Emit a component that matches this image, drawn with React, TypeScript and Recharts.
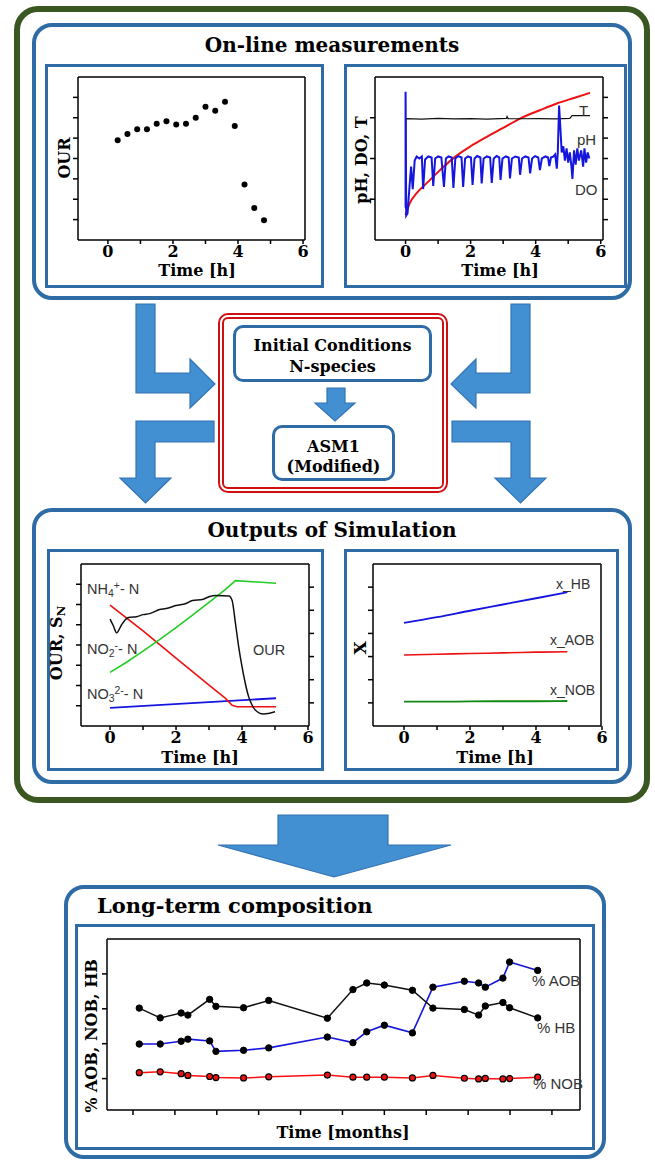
import React from 'react';
import { LineChart, Line, XAxis, YAxis, ScatterChart, Scatter } from 'recharts';

// ---------- On-line measurements: OUR ----------
const ourTime = [0.3, 0.6, 0.9, 1.2, 1.5, 1.8, 2.1, 2.4, 2.7, 3.0, 3.3, 3.6, 3.9, 4.2, 4.5, 4.8];
const ourValue = [4.89, 5.2, 5.43, 5.43, 5.7, 5.83, 5.67, 5.7, 6.0, 6.54, 6.34, 6.78, 5.59, 2.73, 1.57, 0.97];

// ---------- On-line measurements: pH, DO, T ----------
const tempTime = [0, 0.01, 0.5, 1.0, 1.5, 2.0, 2.5, 3.1, 3.12, 3.15, 3.6, 4.1, 4.6, 5.05, 5.12, 5.67];
const tempValue = [1.55, 5.96, 5.93, 5.97, 5.94, 5.96, 5.93, 5.97, 6.06, 5.96, 5.95, 5.96, 5.94, 5.97, 6.1, 6.1];
const phTime = [0, 0.13, 0.34, 0.65, 1.06, 1.52, 2.0, 2.5, 3.0, 3.52, 4.13, 4.65, 5.2, 5.67];
const phValue = [1.23, 1.81, 2.3, 2.79, 3.43, 4.08, 4.6, 5.06, 5.5, 5.96, 6.37, 6.7, 6.98, 7.22];
const doTime = [
  0, 0, 0.02, 0.06, 0.12, 0.17, 0.22, 0.28, 0.34, 0.42, 0.5, 0.54, 0.6, 0.7, 0.8, 0.85, 0.91, 1.0, 1.1,
  1.18, 1.24, 1.32, 1.42, 1.47, 1.53, 1.62, 1.72, 1.77, 1.83, 1.92, 2.01, 2.06, 2.12, 2.2, 2.3, 2.34,
  2.4, 2.5, 2.6, 2.65, 2.71, 2.8, 2.88, 2.92, 2.98, 3.08, 3.17, 3.21, 3.27, 3.37, 3.48, 3.52, 3.58,
  3.68, 3.78, 3.83, 3.89, 3.98, 4.08, 4.13, 4.19, 4.3, 4.38, 4.42, 4.47, 4.55, 4.6, 4.65, 4.68, 4.72,
  4.76, 4.8, 4.85, 4.9, 4.95, 5.0, 5.05, 5.1, 5.13, 5.18, 5.23, 5.28, 5.33, 5.4, 5.46, 5.5, 5.55, 5.6, 5.65,
];
const doValue = [
  1.6, 7.27, 1.2, 1.3, 2.6, 3.6, 2.5, 3.9, 4.1, 4.0, 4.1, 2.5, 3.95, 4.1, 4.05, 2.65, 4.0, 4.1, 4.05,
  2.6, 4.0, 4.1, 4.05, 2.55, 4.0, 4.12, 4.05, 2.6, 4.0, 4.1, 4.05, 2.7, 4.0, 4.12, 4.05, 2.78,
  4.0, 4.1, 4.05, 2.8, 4.0, 4.12, 4.05, 2.95, 4.0, 4.1, 4.05, 3.02, 4.0, 4.1, 4.05, 3.2, 4.0,
  4.1, 4.05, 3.27, 4.0, 4.12, 4.05, 3.43, 4.0, 4.1, 4.05, 3.63, 4.05, 4.1, 4.2, 3.5, 4.3, 6.6,
  5.5, 4.3, 4.6, 3.9, 4.5, 3.8, 4.3, 3.6, 3.0, 4.4, 3.7, 4.5, 3.9, 4.4, 3.6, 4.5, 3.8, 4.3, 4.0,
];

// ---------- Outputs of simulation: OUR, S_N ----------
const nh4Time = [0, 1, 2, 3, 3.5, 3.7, 3.85, 5.03];
const nh4Value = [5.97, 4.7, 3.35, 2.02, 1.36, 1.02, 0.95, 0.95];
const no2Time = [0, 0.5, 1, 1.5, 2, 2.5, 3, 3.5, 3.8, 5.03];
const no2Value = [2.65, 3.15, 3.7, 4.27, 4.86, 5.47, 6.1, 6.75, 7.18, 7.05];
const no3Time = [0, 5.03];
const no3Value = [0.9, 1.37];
const ourSimTime = [0, 0.1, 0.2, 0.35, 0.5, 0.6, 0.8, 1.0, 1.2, 1.5, 1.7, 2.0, 2.3, 2.5, 2.8, 3.0, 3.2, 3.6, 3.7, 3.8, 3.9, 4.0, 4.1, 4.2, 4.3, 4.4, 4.65, 5.0];
const ourSimValue = [5.28, 4.95, 4.6, 5.0, 5.3, 5.37, 5.4, 5.5, 5.55, 5.75, 5.8, 5.95, 6.05, 6.2, 6.25, 6.38, 6.44, 6.42, 6.2, 5.08, 3.9, 2.93, 2.1, 1.45, 1.05, 0.79, 0.59, 0.7];

// ---------- Outputs of simulation: X ----------
const xTime = [0, 1, 2, 3, 4, 4.95];
const xHB = [4.46, 4.7, 4.98, 5.25, 5.52, 5.78];
const xAOB = [3.07, 3.1, 3.13, 3.16, 3.19, 3.21];
const xNOB = [1.05, 1.05, 1.06, 1.07, 1.07, 1.08];

// ---------- Long-term composition ----------
const ltMonths = [0.15, 0.65, 1.15, 1.31, 1.83, 1.98, 2.64, 3.24, 4.64, 5.25, 5.58, 6.0, 6.67, 7.16, 7.91, 8.25, 8.41, 8.83, 8.99, 9.66];
const ltHB = [20.2, 17.4, 18.8, 18.2, 22.7, 20.7, 20.3, 22.4, 17.3, 25.5, 27.4, 26.8, 25.3, 20.2, 19.8, 18.2, 20.8, 21.8, 20.3, 17.4];
const ltAOB = [9.9, 9.9, 10.7, 11.3, 10.8, 7.8, 8.1, 8.8, 11.9, 10.3, 13.4, 15.3, 13.1, 26.2, 27.9, 27.4, 26.2, 28.8, 33.4, 31.0];
const ltNOB = [1.7, 1.95, 1.4, 0.9, 0.6, 0.3, 0.2, 0.5, 1.0, 0.4, 0.4, 0.4, 0.2, 0.9, 0.1, -0.1, 0.06, -0.1, 0.0, 0.4];

const hourTicks = [0, 1, 2, 3, 4, 5, 6];

const SERIF = '"DejaVu Serif", serif';
const SANS = '"Liberation Sans", Arial, sans-serif';
const FRAME_BLUE = '#2f6ca6';
const ARROW_FILL = '#428fd1';
const ARROW_STROKE = '#3474b4';

const pts = (xs: number[], ys: number[]) => xs.map((t, i) => ({ t, v: ys[i] }));
const evenLabel = (v: number) => (v % 2 === 0 ? String(v) : '');
const noLabel = () => '';
const tickFont = { fontFamily: SERIF, fontWeight: 700, fontSize: 16, fill: '#000' };
const axisLine = { stroke: '#000', strokeWidth: 1.5 };

// plot rectangle margins (axis widths/heights of 1px are taken off each side)
const m = (top: number, right: number, bottom: number, left: number) => ({ top: top - 1, right: right - 1, bottom: bottom - 1, left: left - 1 });

const Panel = ({ l, t, r, b, border, radius = 0 }: any) => (
  <div style={{ position: 'absolute', left: l, top: t, width: r - l, height: b - t, border, borderRadius: radius, boxSizing: 'border-box' }} />
);

const Txt = ({ x, y, size = 15, bold = true, family = SERIF, rotate = false, left = false, color = '#000', children }: any) => (
  <div
    style={{
      position: 'absolute', left: x, top: y, fontFamily: family, fontWeight: bold ? 700 : 400, fontSize: size,
      color, whiteSpace: 'nowrap', lineHeight: 1,
      transform: left ? 'translateY(-50%)' : `translate(-50%, -50%)${rotate ? ' rotate(-90deg)' : ''}`,
    }}
  >
    {children}
  </div>
);

const Sub = ({ children }: any) => <span style={{ fontSize: '0.72em', verticalAlign: '-0.3em' }}>{children}</span>;
const Sup = ({ children }: any) => <span style={{ fontSize: '0.72em', verticalAlign: '0.5em' }}>{children}</span>;

const Arrows = () => (
  <svg width={655} height={1161} style={{ position: 'absolute', left: 0, top: 0 }}>
    <g fill={ARROW_FILL} stroke={ARROW_STROKE} strokeWidth={1.2} strokeLinejoin="miter">
      <polygon points="136,304 155,304 155,373 190,373 190,359 215,384 190,408 190,393 136,393" />
      <polygon points="214,421 214,442 155,442 155,478 171,478 145.5,503 120,478 136,478 136,421" />
      <polygon points="530,304 511,304 511,373 476,373 476,359 451,384 476,408 476,393 530,393" />
      <polygon points="452,421 452,442 511,442 511,478 495,478 520.5,503 546,478 530,478 530,421" />
      <polygon points="327,388 345,388 345,403 355,403 335,421 315,403 327,403" />
      <polygon points="278,815 388,815 388,845 451,845 334,877 218,845 278,845" />
    </g>
  </svg>
);

export default function App() {
  return (
    <div style={{ position: 'absolute', left: 0, top: 0, width: 655, height: 1161, background: '#fff' }}>
      <Panel l={14} t={6} r={650} b={803} border="6px solid #3a5621" radius={24} />
      <Panel l={32} t={23} r={632} b={300} border={`4px solid ${FRAME_BLUE}`} radius={20} />
      <Panel l={45} t={64} r={324} b={288} border={`3px solid ${FRAME_BLUE}`} />
      <Panel l={344} t={64} r={627} b={288} border={`3px solid ${FRAME_BLUE}`} />
      <Panel l={32} t={508} r={632} b={784} border={`4px solid ${FRAME_BLUE}`} radius={20} />
      <Panel l={47} t={549} r={324} b={771} border={`3px solid ${FRAME_BLUE}`} />
      <Panel l={344} t={549} r={619} b={771} border={`3px solid ${FRAME_BLUE}`} />
      <Panel l={64} t={885} r={606} b={1159} border={`4px solid ${FRAME_BLUE}`} radius={20} />
      <Panel l={75} t={924} r={595} b={1150} border={`3px solid ${FRAME_BLUE}`} />
      <Panel l={218} t={313} r={448} b={493} border="6px double #d01010" radius={10} />
      <Panel l={233} t={325} r={432} b={382} border={`3px solid ${FRAME_BLUE}`} radius={10} />
      <Panel l={272} t={425} r={395} b={481} border={`3px solid ${FRAME_BLUE}`} radius={10} />
      <Arrows />

      <Txt x={332} y={45} size={20}>On-line measurements</Txt>
      <Txt x={332} y={530} size={20}>Outputs of Simulation</Txt>
      <Txt x={97} y={905} size={21} left>Long-term composition</Txt>
      <Txt x={332.5} y={346} size={16}>Initial Conditions</Txt>
      <Txt x={332.5} y={367} size={16}>N-species</Txt>
      <Txt x={333.5} y={447} size={16}>ASM1</Txt>
      <Txt x={333.5} y={467} size={16}>(Modified)</Txt>

      {/* On-line OUR */}
      <div style={{ position: 'absolute', left: 50, top: 68 }}>
        <ScatterChart width={270} height={216} margin={m(9, 15, 44, 28)}>
          <XAxis type="number" dataKey="t" domain={[-0.92, 6.06]} ticks={hourTicks} interval={0} tickFormatter={evenLabel} height={1} tick={tickFont} tickSize={4} axisLine={axisLine} tickLine={axisLine} allowDataOverflow />
          <XAxis xAxisId="top" orientation="top" type="number" domain={[-0.92, 6.06]} height={1} tick={false} tickLine={false} axisLine={axisLine} allowDataOverflow />
          <YAxis type="number" dataKey="v" domain={[0, 8]} ticks={[1, 2, 3, 4, 5, 6, 7]} width={1} tickFormatter={noLabel} tickSize={5} axisLine={axisLine} tickLine={axisLine} allowDataOverflow />
          <YAxis yAxisId="right" orientation="right" type="number" domain={[0, 8]} width={1} tick={false} tickLine={false} axisLine={axisLine} allowDataOverflow />
          <Scatter data={pts(ourTime, ourValue)} fill="#000" isAnimationActive={false} shape={(p: any) => <circle cx={p.cx} cy={p.cy} r={3} fill="#000" />} />
        </ScatterChart>
      </div>
      <Txt x={197} y={271} size={16}>Time [h]</Txt>
      <Txt x={65} y={158} size={16} rotate>OUR</Txt>

      {/* On-line pH, DO, T */}
      <div style={{ position: 'absolute', left: 347, top: 68 }}>
        <LineChart width={277} height={216} margin={m(9, 21, 44, 28)}>
          <XAxis type="number" dataKey="t" domain={[-0.94, 6.07]} ticks={hourTicks} interval={0} tickFormatter={evenLabel} height={1} tick={tickFont} tickSize={4} axisLine={axisLine} tickLine={axisLine} allowDataOverflow />
          <XAxis xAxisId="top" orientation="top" type="number" domain={[-0.94, 6.07]} height={1} tick={false} tickLine={false} axisLine={axisLine} allowDataOverflow />
          <YAxis type="number" dataKey="v" domain={[0, 8]} ticks={[2, 4, 6]} width={1} tickFormatter={noLabel} tickSize={5} axisLine={axisLine} tickLine={axisLine} allowDataOverflow />
          <YAxis yAxisId="right" orientation="right" type="number" domain={[0, 8]} ticks={[1, 2, 3, 4, 5, 6, 7]} width={1} tickFormatter={noLabel} tickSize={5} axisLine={axisLine} tickLine={axisLine} allowDataOverflow />
          <Line data={pts(phTime, phValue)} dataKey="v" type="monotone" stroke="#ee1111" strokeWidth={2} dot={false} isAnimationActive={false} />
          <Line data={pts(tempTime, tempValue)} dataKey="v" type="linear" stroke="#111" strokeWidth={1.2} dot={false} isAnimationActive={false} />
          <Line data={pts(doTime, doValue)} dataKey="v" type="linear" stroke="#1515dd" strokeWidth={2} dot={false} isAnimationActive={false} />
        </LineChart>
      </div>
      <Txt x={500} y={271} size={16}>Time [h]</Txt>
      <Txt x={362} y={160} size={16} rotate>pH, DO, T</Txt>
      <Txt x={579} y={110} size={15} bold={false} family={SANS} left color="#333">T</Txt>
      <Txt x={577} y={139} size={15} bold={false} family={SANS} left color="#333">pH</Txt>
      <Txt x={575} y={189} size={15} bold={false} family={SANS} left color="#333">DO</Txt>

      {/* Simulation OUR, S_N */}
      <div style={{ position: 'absolute', left: 50, top: 553 }}>
        <LineChart width={271} height={214} margin={m(11, 12, 41, 31)}>
          <XAxis type="number" dataKey="t" domain={[-0.88, 6.03]} ticks={hourTicks} interval={0} tickFormatter={evenLabel} height={1} tick={tickFont} tickSize={4} axisLine={axisLine} tickLine={axisLine} allowDataOverflow />
          <XAxis xAxisId="top" orientation="top" type="number" domain={[-0.88, 6.03]} height={1} tick={false} tickLine={false} axisLine={axisLine} allowDataOverflow />
          <YAxis type="number" dataKey="v" domain={[0, 8]} ticks={[1, 2, 3, 4, 5, 6, 7]} width={1} tickFormatter={noLabel} tickSize={5} axisLine={axisLine} tickLine={axisLine} allowDataOverflow />
          <YAxis yAxisId="right" orientation="right" type="number" domain={[0, 7]} ticks={[1, 2, 3, 4, 5, 6]} width={1} tickFormatter={noLabel} tickSize={5} axisLine={axisLine} tickLine={axisLine} allowDataOverflow />
          <Line data={pts(no3Time, no3Value)} dataKey="v" type="linear" stroke="#1515dd" strokeWidth={1.8} dot={false} isAnimationActive={false} />
          <Line data={pts(nh4Time, nh4Value)} dataKey="v" type="linear" stroke="#ee1111" strokeWidth={1.6} dot={false} isAnimationActive={false} />
          <Line data={pts(no2Time, no2Value)} dataKey="v" type="linear" stroke="#22cc22" strokeWidth={1.6} dot={false} isAnimationActive={false} />
          <Line data={pts(ourSimTime, ourSimValue)} dataKey="v" type="monotone" stroke="#111" strokeWidth={1.5} dot={false} isAnimationActive={false} />
        </LineChart>
      </div>
      <Txt x={200} y={758} size={16}>Time [h]</Txt>
      <Txt x={58} y={643} size={16} rotate>OUR, S<Sub>N</Sub></Txt>
      <Txt x={87} y={590} size={14.5} bold={false} family={SANS} left color="#333">NH<Sub>4</Sub><Sup>+</Sup>- N</Txt>
      <Txt x={87} y={650} size={14.5} bold={false} family={SANS} left color="#333">NO<Sub>2</Sub><Sup>-</Sup>- N</Txt>
      <Txt x={87} y={695} size={14.5} bold={false} family={SANS} left color="#333">NO<Sub>3</Sub><Sup>2-</Sup>- N</Txt>
      <Txt x={253} y={650} size={14.5} bold={false} family={SANS} left color="#333">OUR</Txt>

      {/* Simulation X */}
      <div style={{ position: 'absolute', left: 347, top: 553 }}>
        <LineChart width={269} height={214} margin={m(11, 15, 41, 26)}>
          <XAxis type="number" dataKey="t" domain={[-0.94, 5.97]} ticks={hourTicks} interval={0} tickFormatter={evenLabel} height={1} tick={tickFont} tickSize={4} axisLine={axisLine} tickLine={axisLine} allowDataOverflow />
          <XAxis xAxisId="top" orientation="top" type="number" domain={[-0.94, 5.97]} height={1} tick={false} tickLine={false} axisLine={axisLine} allowDataOverflow />
          <YAxis type="number" dataKey="v" domain={[0, 7]} ticks={[1, 2, 3, 4, 5, 6]} width={1} tickFormatter={noLabel} tickSize={5} axisLine={axisLine} tickLine={axisLine} allowDataOverflow />
          <YAxis yAxisId="right" orientation="right" type="number" domain={[0, 7]} width={1} tick={false} tickLine={false} axisLine={axisLine} allowDataOverflow />
          <Line data={pts(xTime, xHB)} dataKey="v" type="monotone" stroke="#1515dd" strokeWidth={1.8} dot={false} isAnimationActive={false} />
          <Line data={pts(xTime, xAOB)} dataKey="v" type="monotone" stroke="#ee1111" strokeWidth={1.6} dot={false} isAnimationActive={false} />
          <Line data={pts(xTime, xNOB)} dataKey="v" type="monotone" stroke="#118811" strokeWidth={1.8} dot={false} isAnimationActive={false} />
        </LineChart>
      </div>
      <Txt x={495} y={758} size={16}>Time [h]</Txt>
      <Txt x={360} y={648} size={17} rotate>X</Txt>
      <Txt x={556} y={584} size={14} bold={false} family={SANS} left color="#333">x_HB</Txt>
      <Txt x={550} y={640} size={14} bold={false} family={SANS} left color="#333">x_AOB</Txt>
      <Txt x={550} y={690} size={14} bold={false} family={SANS} left color="#333">x_NOB</Txt>

      {/* Long-term composition */}
      <div style={{ position: 'absolute', left: 78, top: 928 }}>
        <LineChart width={514} height={218} margin={m(11, 12, 36, 29)}>
          <XAxis type="number" dataKey="t" domain={[-0.62, 10.67]} ticks={[0, 1, 2, 3, 4, 5, 6, 7, 8, 9, 10]} interval={0} tickFormatter={noLabel} height={1} tickSize={5} axisLine={axisLine} tickLine={axisLine} allowDataOverflow />
          <XAxis xAxisId="top" orientation="top" type="number" domain={[-0.62, 10.67]} height={1} tick={false} tickLine={false} axisLine={axisLine} allowDataOverflow />
          <YAxis type="number" dataKey="v" domain={[-9, 40]} ticks={[0, 10, 20, 30]} width={1} tickFormatter={noLabel} tickSize={5} axisLine={axisLine} tickLine={axisLine} allowDataOverflow />
          <YAxis yAxisId="right" orientation="right" type="number" domain={[-9, 40]} width={1} tick={false} tickLine={false} axisLine={axisLine} allowDataOverflow />
          <Line data={pts(ltMonths, ltNOB)} dataKey="v" type="linear" stroke="#ff1010" strokeWidth={1.5} dot={{ r: 3, fill: '#ee1111', stroke: '#000', strokeWidth: 1.2 }} isAnimationActive={false} />
          <Line data={pts(ltMonths, ltAOB)} dataKey="v" type="linear" stroke="#1515dd" strokeWidth={1.6} dot={{ r: 3.2, fill: '#000', stroke: '#000', strokeWidth: 1 }} isAnimationActive={false} />
          <Line data={pts(ltMonths, ltHB)} dataKey="v" type="linear" stroke="#111" strokeWidth={1.5} dot={{ r: 3.2, fill: '#000', stroke: '#000', strokeWidth: 1 }} isAnimationActive={false} />
        </LineChart>
      </div>
      <Txt x={343} y={1133} size={16}>Time [months]</Txt>
      <Txt x={92} y={1036} size={16} rotate>% AOB, NOB, HB</Txt>
      <Txt x={532} y={980} size={15} bold={false} family={SANS} left color="#333">% AOB</Txt>
      <Txt x={537} y={1027} size={15} bold={false} family={SANS} left color="#333">% HB</Txt>
      <Txt x={533} y={1083} size={15} bold={false} family={SANS} left color="#333">% NOB</Txt>
    </div>
  );
}
